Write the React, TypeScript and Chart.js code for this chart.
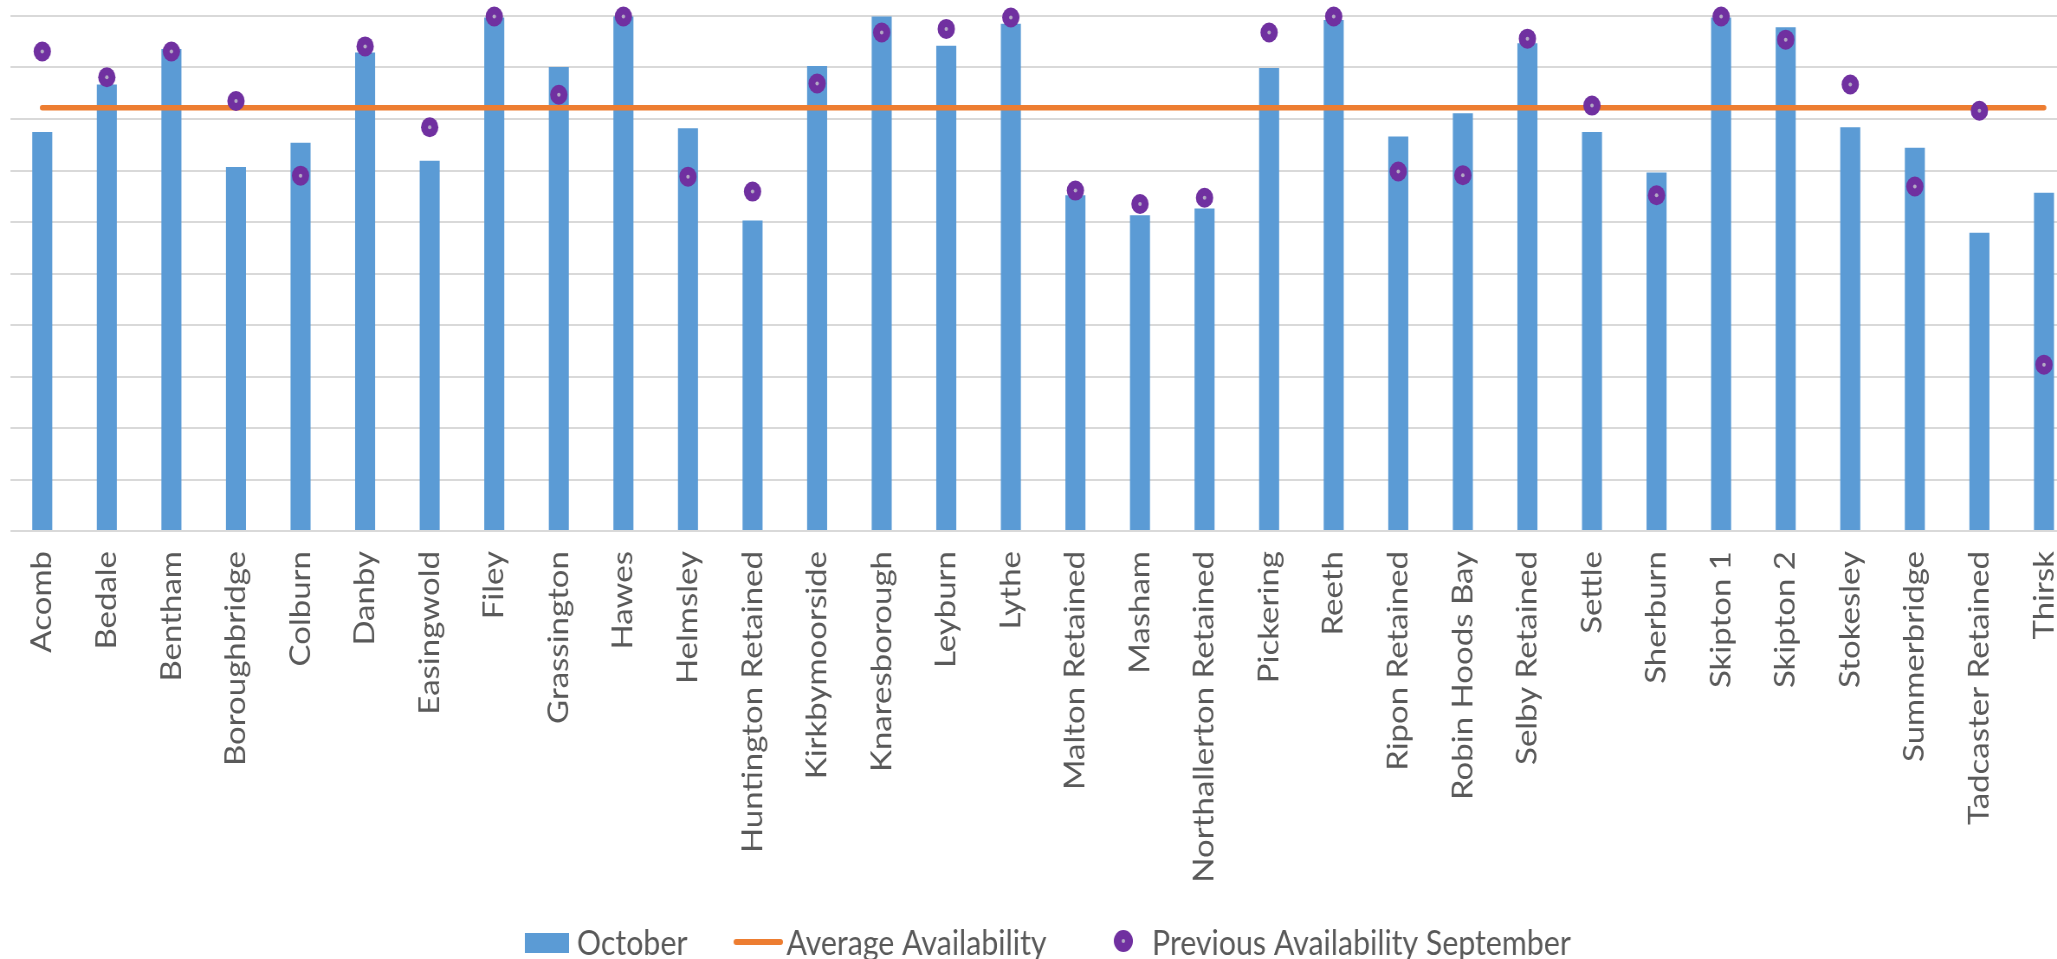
import { useEffect, useRef } from 'react';
import { Chart, registerables } from 'chart.js';

Chart.register(...registerables);

const categories = [
  'Acomb', 'Bedale', 'Bentham', 'Boroughbridge', 'Colburn', 'Danby', 'Easingwold', 'Filey',
  'Grassington', 'Hawes', 'Helmsley', 'Huntington Retained', 'Kirkbymoorside', 'Knaresborough',
  'Leyburn', 'Lythe', 'Malton Retained', 'Masham', 'Northallerton Retained', 'Pickering', 'Reeth',
  'Ripon Retained', 'Robin Hoods Bay', 'Selby Retained', 'Settle', 'Sherburn', 'Skipton 1',
  'Skipton 2', 'Stokesley', 'Summerbridge', 'Tadcaster Retained', 'Thirsk',
];

const october = [
  77.5, 86.7, 93.6, 70.7, 75.4, 92.9, 71.9, 99.7, 90.1, 99.9, 78.2, 60.3, 90.3, 99.9, 94.2, 98.5,
  65.2, 61.3, 62.6, 89.9, 99.2, 76.6, 81.1, 94.7, 77.5, 69.6, 99.7, 97.8, 78.4, 74.4, 57.9, 65.7,
];

const previousSeptember = [
  93.1, 88.1, 93.1, 83.5, 69.0, 94.1, 78.4, 99.9, 84.7, 99.9, 68.8, 65.9, 86.9, 96.8, 97.5, 99.7,
  66.1, 63.5, 64.7, 96.8, 99.9, 69.8, 69.1, 95.6, 82.6, 65.2, 99.9, 95.4, 86.7, 66.9, 81.6, 32.3,
];

const averageAvailability = [
  82.2, 82.2, 82.2, 82.2, 82.2, 82.2, 82.2, 82.2, 82.2, 82.2, 82.2, 82.2, 82.2, 82.2, 82.2, 82.2,
  82.2, 82.2, 82.2, 82.2, 82.2, 82.2, 82.2, 82.2, 82.2, 82.2, 82.2, 82.2, 82.2, 82.2, 82.2, 82.2,
];

const legendLabels = ['October', 'Average Availability', 'Previous Availability September'];

const SQUISH = 0.866;
const CANVAS_W = 2420;
const CANVAS_H = 959;
const FONT = 'Lato, "Open Sans", sans-serif';
const TEXT_COLOR = '#595959';
const BAR_COLOR = '#5b9bd5';
const LINE_COLOR = '#ed7d31';
const DOT_COLOR = '#7030a0';
const DOT_CENTER = '#b3a9c4';

const legendPlugin = {
  id: 'customLegend',
  afterDraw(chart: any) {
    const ctx = chart.ctx as CanvasRenderingContext2D;
    ctx.save();
    ctx.font = `35px ${FONT}`;
    ctx.fillStyle = TEXT_COLOR;
    ctx.textBaseline = 'alphabetic';
    ctx.textAlign = 'left';
    const baseY = 955;

    // October box
    ctx.fillStyle = BAR_COLOR;
    ctx.fillRect(606, 933, 51, 20);
    ctx.fillStyle = TEXT_COLOR;
    ctx.fillText(legendLabels[0], 666, baseY);

    // Average line
    ctx.strokeStyle = LINE_COLOR;
    ctx.lineWidth = 6;
    ctx.lineCap = 'round';
    ctx.beginPath();
    ctx.moveTo(850, 942);
    ctx.lineTo(901, 942);
    ctx.stroke();
    ctx.fillText(legendLabels[1], 908, baseY);

    // Previous dot
    ctx.fillStyle = DOT_COLOR;
    ctx.beginPath();
    ctx.arc(1297, 941, 11, 0, Math.PI * 2);
    ctx.fill();
    ctx.fillStyle = DOT_CENTER;
    ctx.beginPath();
    ctx.arc(1297, 941, 2, 0, Math.PI * 2);
    ctx.fill();
    ctx.fillStyle = TEXT_COLOR;
    ctx.fillText(legendLabels[2], 1330, baseY);
    ctx.restore();
  },
};

export default function App() {
  const ref = useRef<HTMLCanvasElement>(null);

  useEffect(() => {
    let chart: Chart | null = null;
    let cancelled = false;
    const build = () => {
      if (cancelled || !ref.current) return;
      chart = new Chart(ref.current, {
        type: 'bar',
        data: {
          labels: categories,
          datasets: [
            {
              type: 'line',
              label: 'center',
              data: previousSeptember,
              showLine: false,
              pointRadius: 2,
              pointBackgroundColor: DOT_CENTER,
              pointBorderWidth: 0,
              clip: false,
              order: 0,
            } as any,
            {
              type: 'line',
              label: legendLabels[2],
              data: previousSeptember,
              showLine: false,
              pointRadius: 10,
              pointBackgroundColor: DOT_COLOR,
              pointBorderWidth: 0,
              clip: false,
              order: 1,
            } as any,
            {
              type: 'line',
              label: legendLabels[1],
              data: averageAvailability,
              borderColor: LINE_COLOR,
              borderWidth: 5.5,
              borderCapStyle: 'round',
              pointRadius: 0,
              fill: false,
              clip: false,
              order: 2,
            } as any,
            {
              type: 'bar',
              label: legendLabels[0],
              data: october,
              backgroundColor: BAR_COLOR,
              barPercentage: 0.31,
              categoryPercentage: 1,
              order: 3,
            } as any,
          ],
        },
        options: {
          responsive: false,
          animation: false,
          events: [],
          layout: { padding: { left: 11.5, right: 22.8, top: 16, bottom: 0 } },
          plugins: { legend: { display: false }, tooltip: { enabled: false } },
          scales: {
            x: {
              grid: { display: false, drawTicks: false },
              border: { display: false },
              ticks: {
                autoSkip: false,
                minRotation: 90,
                maxRotation: 90,
                padding: 20,
                color: TEXT_COLOR,
                font: { family: FONT, size: 33 },
              },
              afterFit: (s: any) => {
                s.height = 428;
              },
            },
            y: {
              min: 0,
              max: 100,
              ticks: { display: false, stepSize: 10 },
              grid: { color: '#d9d9d9', lineWidth: 2, drawTicks: false },
              border: { display: false },
              afterFit: (s: any) => {
                s.width = 0;
              },
            },
          },
        } as any,
        plugins: [legendPlugin],
      });
    };
    const fontsReady = (document as any).fonts
      ? (document as any).fonts.load(`32px Lato`)
      : Promise.resolve();
    fontsReady.then(build, build);
    return () => {
      cancelled = true;
      if (chart) chart.destroy();
    };
  }, []);

  return (
    <div
      style={{
        position: 'fixed',
        left: 0,
        top: 0,
        width: '100vw',
        height: '100vh',
        overflow: 'hidden',
        background: '#ffffff',
      }}
    >
      <canvas
        ref={ref}
        width={CANVAS_W}
        height={CANVAS_H}
        style={{ width: `${CANVAS_W * SQUISH}px`, height: `${CANVAS_H}px`, display: 'block' }}
      />
    </div>
  );
}
